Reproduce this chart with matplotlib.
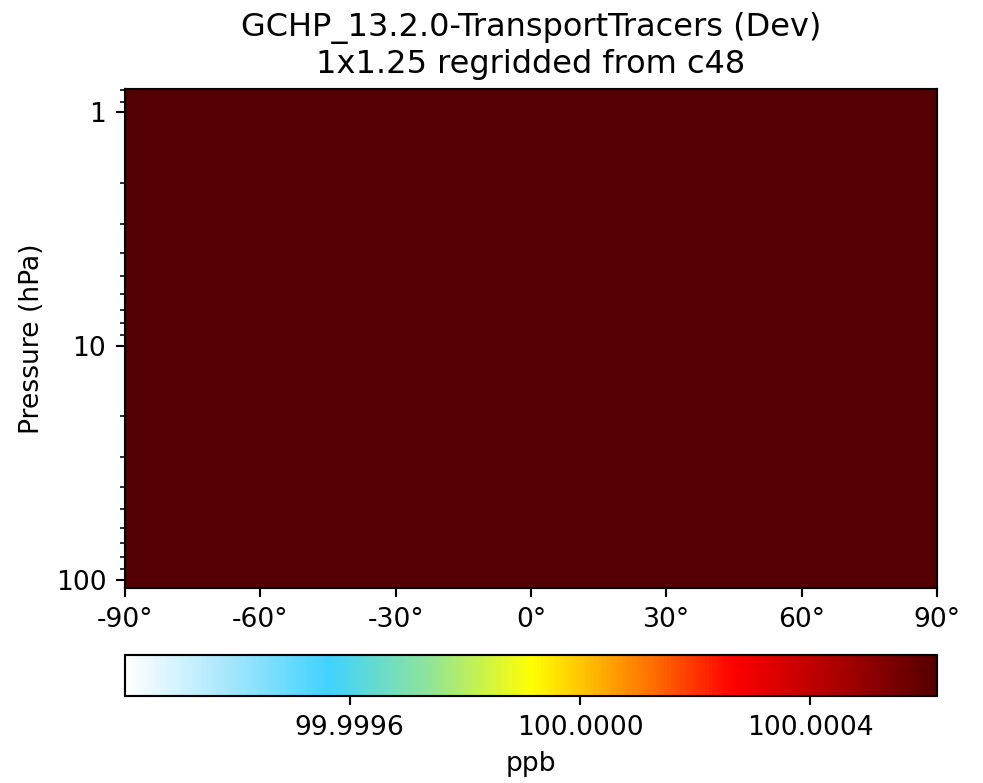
import numpy as np
import matplotlib
matplotlib.use("Agg")
import matplotlib.pyplot as plt
from matplotlib.colors import LinearSegmentedColormap, Normalize
from matplotlib.ticker import FixedLocator, FuncFormatter, LogLocator, NullFormatter

# ---- data ----
title_lines = ["GCHP_13.2.0-TransportTracers (Dev)", "1x1.25 regridded from c48"]
units = "ppb"
# GEOS 72-level pressure edges (hPa) covering the stratospheric range shown
pres_edges = [108.663, 92.3657, 78.5123, 66.6034, 56.3879, 47.6439, 40.1754,
              33.8100, 28.3678, 23.7304, 19.7916, 16.4571, 13.6434, 11.2769,
              9.2929, 7.6198, 6.2168, 5.0468, 4.0766, 3.2764, 2.6202, 2.0850,
              1.6508, 1.3005, 1.0194, 0.7951]
lat_edges = [-90.0] + list(np.arange(-89.5, 90.0, 1.0)) + [90.0]
field_value = 100.00062          # constant tracer mixing ratio (ppb)
cbar_vmin = 99.99921
cbar_vmax = 100.00062
cbar_ticks = [99.9996, 100.0000, 100.0004]
xticks = [-90, -60, -30, 0, 30, 60, 90]
yticks = [1, 10, 100]

values = np.full((len(pres_edges) - 1, len(lat_edges) - 1), field_value)

# ---- colormap (WhGrYlRd approximation) ----
cstops = [
    (0.00, (255, 255, 255)),
    (0.12, (170, 232, 252)),
    (0.25, (64, 210, 255)),
    (0.37, (140, 228, 155)),
    (0.50, (255, 255, 0)),
    (0.56, (255, 200, 0)),
    (0.65, (255, 110, 0)),
    (0.75, (255, 0, 0)),
    (0.88, (170, 0, 0)),
    (1.00, (84, 0, 2)),
]
cmap = LinearSegmentedColormap.from_list(
    "WhGrYlRd", [(p, tuple(c / 255 for c in rgb)) for p, rgb in cstops], N=256)

DPI = 192
W, H = 983, 783
fig = plt.figure(figsize=(W / DPI, H / DPI), dpi=DPI)

ax = fig.add_axes([125 / W, 1 - 588 / H, (937 - 125) / W, (588 - 89) / H])
norm = Normalize(vmin=cbar_vmin, vmax=cbar_vmax)
mesh = ax.pcolormesh(lat_edges, pres_edges, values, cmap=cmap, norm=norm, shading="flat")
ax.set_yscale("log")
ax.set_ylim(max(pres_edges), min(pres_edges))
ax.set_xlim(-90, 90)
ax.yaxis.set_major_locator(FixedLocator(yticks))
ax.yaxis.set_major_formatter(FuncFormatter(lambda v, p: f"{v:g}"))
ax.yaxis.set_minor_locator(LogLocator(base=10, subs=np.arange(2, 10)))
ax.yaxis.set_minor_formatter(NullFormatter())
ax.set_xticks(xticks)
ax.set_xticklabels([f"{x}\u00b0" for x in xticks])
ax.set_ylabel("Pressure (hPa)")
ax.set_title("\n".join(title_lines))

cax = fig.add_axes([125 / W, 1 - 696 / H, (937 - 125) / W, (696 - 655) / H])
cb = fig.colorbar(mesh, cax=cax, orientation="horizontal")
cb.set_ticks(cbar_ticks)
cb.set_ticklabels([f"{t:.4f}" for t in cbar_ticks])
cb.set_label(units)

fig.savefig("out.png", dpi=DPI)
